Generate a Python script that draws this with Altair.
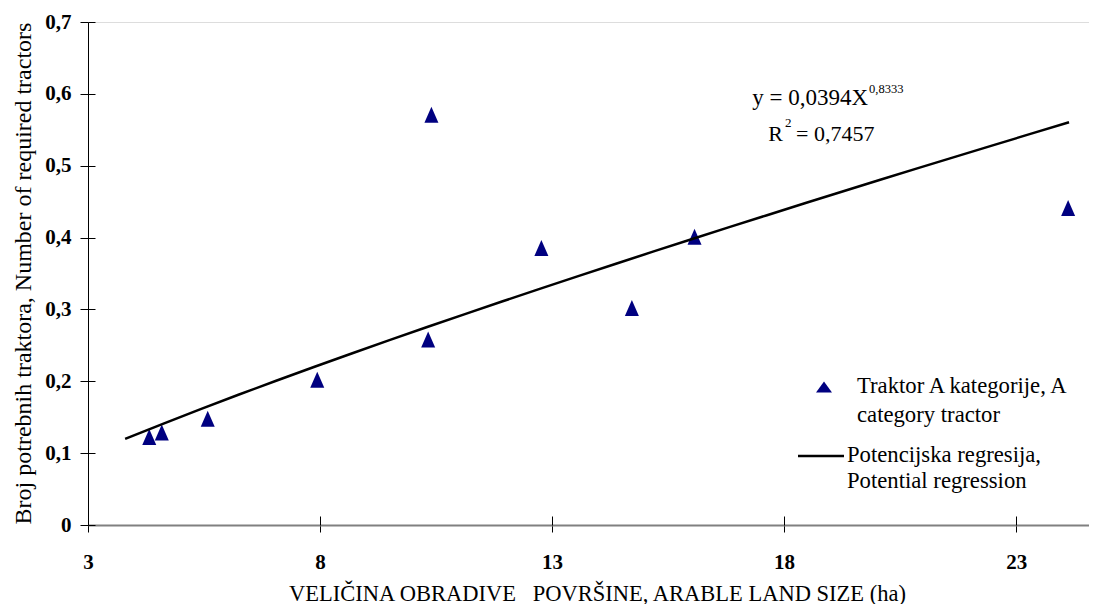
import altair as alt
import pandas as pd

# ---- data ----
land_size = [4.32, 4.59, 5.58, 7.94, 10.33, 10.40, 12.77, 14.72, 16.07, 24.12]
tractors = [0.1225, 0.1287, 0.148, 0.202, 0.258, 0.571, 0.3855, 0.302, 0.401, 0.441]
x_ticks = [3, 8, 13, 18, 23]
y_ticks = [0, 0.1, 0.2, 0.3, 0.4, 0.5, 0.6, 0.7]
x_domain = [3, 24.57]
y_domain = [0, 0.7]
trend_extent = [3.8, 24.14]

equation_main = "y = 0,0394X"
equation_exp = "0,8333"
r2_base = "R"
r2_exp = "2"
r2_value = "= 0,7457"
legend_points = ["Traktor A kategorije, A", "category tractor"]
legend_line = ["Potencijska regresija,", "Potential regression"]
x_title = "VELIČINA OBRADIVE\u00a0\u00a0\u00a0POVRŠINE, ARABLE LAND SIZE (ha)"
y_title = "Broj potrebnih traktora, Number of required tractors"

df = pd.DataFrame({"x": land_size, "y": tractors})

FONT = "Times New Roman, Liberation Serif, DejaVu Serif, Liberation Sans, serif"
W, H = 1001, 503
NAVY = "#000080"

xscale = alt.Scale(domain=x_domain, nice=False, zero=False)
yscale = alt.Scale(domain=y_domain, nice=False, zero=False)
ylabel = "datum.value == 0 ? '0' : replace(format(datum.value, '.1f'), '.', ',')"

x_axis = alt.Axis(
    values=x_ticks, title=x_title, grid=False,
    domainColor="#808080", domainWidth=2,
    tickColor="black", tickSize=7, tickWidth=1,
    labelFont=FONT, labelFontSize=21, labelFontWeight="bold", labelColor="black",
    labelBaseline="alphabetic", labelPadding=36, labelFlush=False, labelOverlap=False,
    titleFont=FONT, titleFontSize=22.5, titleFontWeight="normal", titleColor="black",
    titleX=509, titleY=75, titleBaseline="alphabetic", titleAlign="center",
)
y_axis = alt.Axis(
    values=y_ticks, labelExpr=ylabel, title=y_title, grid=False,
    domainColor="black", domainWidth=1,
    tickColor="black", tickSize=8, tickWidth=1,
    labelFont=FONT, labelFontSize=21, labelFontWeight="bold", labelColor="black",
    labelPadding=9, labelFlush=False, labelOverlap=False,
    titleFont=FONT, titleFontSize=24, titleFontWeight="normal", titleColor="black",
    titleX=-58, titleY=251, titleBaseline="alphabetic", titleAngle=270, titleAlign="center",
)
# inner halves of the crossing tick marks
x_axis_in = alt.Axis(orient="top", offset=-H, values=x_ticks, labels=False, domain=False,
                     title=None, grid=False, tickColor="black", tickSize=9, tickWidth=1)
y_axis_in = alt.Axis(orient="right", offset=-W, values=y_ticks, labels=False, domain=False,
                     title=None, grid=False, tickColor="black", tickSize=7, tickWidth=1)

base = alt.Chart(df)

points = base.mark_point(
    shape="M0,-1L-0.875,1L0.875,1Z", filled=True, fill=NAVY, size=256, opacity=1, strokeWidth=0
).encode(
    x=alt.X("x:Q", scale=xscale, axis=x_axis),
    y=alt.Y("y:Q", scale=yscale, axis=y_axis),
)

trend = base.transform_regression(
    "x", "y", method="pow", extent=trend_extent
).mark_line(color="black", strokeWidth=2.5).encode(
    x=alt.X("x:Q", scale=xscale, axis=x_axis_in),
    y=alt.Y("y:Q", scale=yscale, axis=y_axis_in),
)


def label(text, x, y, size=22, align="left", baseline="alphabetic"):
    return alt.Chart(pd.DataFrame({"t": [text]})).mark_text(
        font=FONT, fontSize=size, align=align, baseline=baseline, color="black"
    ).encode(x=alt.value(x), y=alt.value(y), text="t:N")


annotations = [
    label(equation_main, 780, 83, 23, align="right"),
    label(equation_exp, 781, 71, 12.5),
    label(r2_base, 695, 119, 22, align="right"),
    label(r2_exp, 697, 105, 13),
    label(r2_value, 708, 119, 22),
    label(legend_points[0], 769, 371, 22.7),
    label(legend_points[1], 769, 400, 22.7),
    label(legend_line[0], 759, 440, 22.7),
    label(legend_line[1], 759, 466, 22.7),
]

legend_symbol = alt.Chart(pd.DataFrame({"t": [legend_points[0]]})).mark_point(
    shape="M0,-0.7L-1,0.7L1,0.7Z", filled=True, fill=NAVY, size=256, opacity=1, strokeWidth=0
).encode(x=alt.value(736), y=alt.value(365))

legend_rule = alt.Chart(pd.DataFrame({"t": [legend_line[0]]})).mark_rule(
    color="black", strokeWidth=2.5
).encode(x=alt.value(710), x2=alt.value(756), y=alt.value(434))

chart = alt.layer(points, trend, legend_symbol, legend_rule, *annotations).resolve_axis(
    x="independent", y="independent"
).properties(
    width=W, height=H,
    padding={"left": 80, "top": 14, "right": 0, "bottom": 79},
    autosize=alt.AutoSizeParams(type="none"),
).configure_view(stroke=None).configure(background="white")

chart.save("out.html", embed_options={"renderer": "svg", "actions": False})
